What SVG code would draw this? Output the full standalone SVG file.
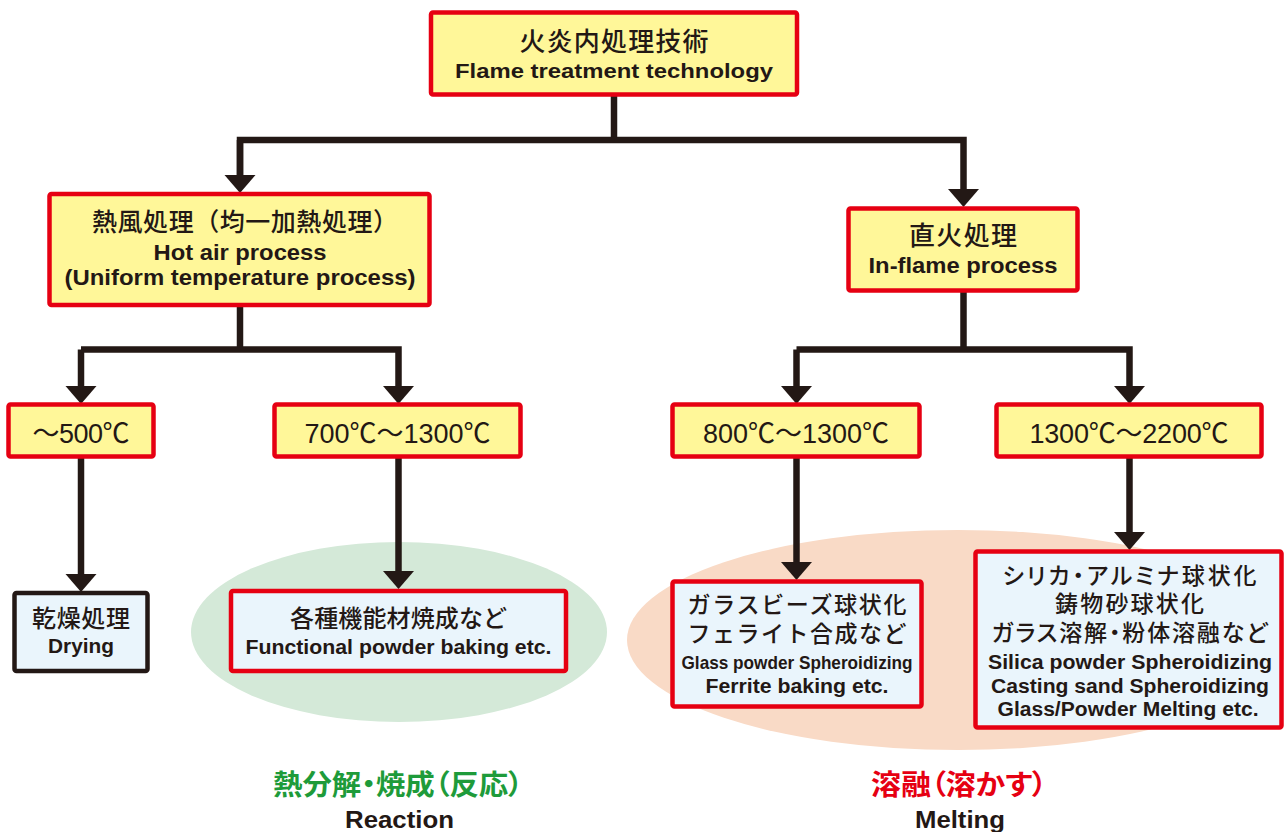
<svg xmlns="http://www.w3.org/2000/svg" width="1284" height="832" viewBox="0 0 1284 832">
<style>
.y{fill:#fff799;stroke:#e60012;stroke-width:4.5}
.b{fill:#eaf5fc;stroke:#e60012;stroke-width:4.5}
.k{fill:#eaf5fc;stroke:#231815;stroke-width:4.5}
text{fill:#231815;text-anchor:middle}
.j{font-family:"Noto Sans CJK JP","Noto Sans CJK SC",sans-serif;font-weight:500}
.p{font-feature-settings:"palt"}
.e{font-family:"Liberation Sans",Arial,sans-serif;font-weight:bold}
.t{font-family:"Liberation Sans","Noto Sans CJK JP",sans-serif}
.c{fill:none;stroke:#231815;stroke-width:6.5;stroke-linejoin:miter}
</style>
<defs>
<marker id="ah" markerUnits="userSpaceOnUse" viewBox="0 -16 18 32" refX="0" refY="0" markerWidth="18" markerHeight="32" orient="auto">
<path d="M0,-15.5 L18,0 L0,15.5 z" fill="#231815"/>
</marker>
</defs>
<rect width="1284" height="832" fill="#ffffff"/>
<g id="areas">
<ellipse cx="399" cy="632" rx="208" ry="90" fill="#d4e9d8"/>
<ellipse cx="958" cy="640" rx="331" ry="110" fill="#f9dac6"/>
</g>
<g id="connectors">
<path class="c" d="M614,95 V140"/>
<path class="c" d="M240,175 V140 H963.5 V189" marker-end="url(#ah)"/>
<path class="c" d="M240,140 V175" marker-end="url(#ah)"/>
<path class="c" d="M240,305 V349.5"/>
<path class="c" d="M81,349.5 V386" marker-end="url(#ah)"/>
<path class="c" d="M81,349.5 H398.5 V386" marker-end="url(#ah)"/>
<path class="c" d="M963.5,291 V349.5"/>
<path class="c" d="M796.5,349.5 V386" marker-end="url(#ah)"/>
<path class="c" d="M796.5,349.5 H1129.5 V386" marker-end="url(#ah)"/>
<path class="c" d="M81,457 V574" marker-end="url(#ah)"/>
<path class="c" d="M398.5,457 V571" marker-end="url(#ah)"/>
<path class="c" d="M796.5,457 V562" marker-end="url(#ah)"/>
<path class="c" d="M1129.5,457 V532" marker-end="url(#ah)"/>
</g>
<g id="root">
<rect class="y" x="431" y="12.5" width="366" height="82" rx="2"/>
<text class="j" x="614" y="50.5" style="font-size:26px" textLength="189">火炎内処理技術</text>
<text class="e" x="614" y="78" style="font-size:21px" textLength="318" lengthAdjust="spacingAndGlyphs">Flame treatment technology</text>
</g>
<g id="hotair">
<rect class="y" x="49.5" y="194" width="380" height="111" rx="2"/>
<text class="j" x="245" y="230.5" style="font-size:25px" textLength="306">熱風処理（均一加熱処理）</text>
<text class="e" x="240" y="260" style="font-size:21.5px" textLength="173" lengthAdjust="spacingAndGlyphs">Hot air process</text>
<text class="e" x="240" y="285" style="font-size:21.5px" textLength="351" lengthAdjust="spacingAndGlyphs">(Uniform temperature process)</text>
</g>
<g id="inflame">
<rect class="y" x="848.5" y="208.5" width="229" height="82" rx="2"/>
<text class="j" x="963" y="244.5" style="font-size:26px" textLength="108">直火処理</text>
<text class="e" x="963" y="273" style="font-size:21.5px" textLength="189" lengthAdjust="spacingAndGlyphs">In-flame process</text>
</g>
<g id="t500">
<rect class="y" x="8.5" y="404.5" width="145" height="52" rx="2"/>
<text class="t" x="81" y="443" style="font-size:27px" textLength="97">～500℃</text>
</g>
<g id="t700">
<rect class="y" x="274.5" y="404.5" width="246" height="52" rx="2"/>
<text class="t" x="397.5" y="443" style="font-size:27px" textLength="186">700℃～1300℃</text>
</g>
<g id="t800">
<rect class="y" x="672.5" y="404.5" width="247" height="52" rx="2"/>
<text class="t" x="796" y="443" style="font-size:27px" textLength="186">800℃～1300℃</text>
</g>
<g id="t1300">
<rect class="y" x="996.5" y="404.5" width="265" height="52" rx="2"/>
<text class="t" x="1129" y="443" style="font-size:27px" textLength="199">1300℃～2200℃</text>
</g>
<g id="drying">
<rect class="k" x="14.5" y="593" width="133" height="78" rx="2"/>
<text class="j" x="81" y="627" style="font-size:24px" textLength="98">乾燥処理</text>
<text class="e" x="81" y="653" style="font-size:21px" textLength="66" lengthAdjust="spacingAndGlyphs">Drying</text>
</g>
<g id="functional">
<rect class="b" x="231" y="591" width="335" height="80" rx="2"/>
<text class="j" x="398.5" y="627" style="font-size:24px" textLength="217">各種機能材焼成など</text>
<text class="e" x="398.5" y="654" style="font-size:20px" textLength="306" lengthAdjust="spacingAndGlyphs">Functional powder baking etc.</text>
</g>
<g id="glass">
<rect class="b" x="672.5" y="581.5" width="249" height="125" rx="2"/>
<text class="j" x="797" y="613" style="font-size:23px" textLength="219">ガラスビーズ球状化</text>
<text class="j" x="797" y="642" style="font-size:23px" textLength="219">フェライト合成など</text>
<text class="e" x="797" y="669" style="font-size:19px" textLength="231" lengthAdjust="spacingAndGlyphs">Glass powder Spheroidizing</text>
<text class="e" x="797" y="693" style="font-size:20px" textLength="183" lengthAdjust="spacingAndGlyphs">Ferrite baking etc.</text>
</g>
<g id="silica">
<rect class="b" x="975.5" y="551.5" width="306" height="176" rx="2"/>
<text class="j p" x="1129.5" y="584" style="font-size:23px" textLength="254">シリカ・アルミナ球状化</text>
<text class="j" x="1129.5" y="612" style="font-size:23px" textLength="149">鋳物砂球状化</text>
<text class="j p" x="1129.5" y="641" style="font-size:23px" textLength="276">ガラス溶解・粉体溶融など</text>
<text class="e" x="1130" y="669" style="font-size:20px" textLength="284" lengthAdjust="spacingAndGlyphs">Silica powder Spheroidizing</text>
<text class="e" x="1130" y="693" style="font-size:20px" textLength="278" lengthAdjust="spacingAndGlyphs">Casting sand Spheroidizing</text>
<text class="e" x="1128" y="716" style="font-size:20px" textLength="261" lengthAdjust="spacingAndGlyphs">Glass/Powder Melting etc.</text>
</g>
<g id="reaction">
<text class="j p" x="398" y="795" style="font-size:28px;font-weight:bold;fill:#1e9b3a" textLength="250" lengthAdjust="spacingAndGlyphs">熱分解・焼成（反応）</text>
<text class="e" x="399.5" y="828" style="font-size:24px" textLength="109" lengthAdjust="spacingAndGlyphs">Reaction</text>
</g>
<g id="melting">
<text class="j p" x="959" y="795" style="font-size:28px;font-weight:bold;fill:#e60012" textLength="176" lengthAdjust="spacingAndGlyphs">溶融（溶かす）</text>
<text class="e" x="960" y="828" style="font-size:24px" textLength="90" lengthAdjust="spacingAndGlyphs">Melting</text>
</g>
</svg>
